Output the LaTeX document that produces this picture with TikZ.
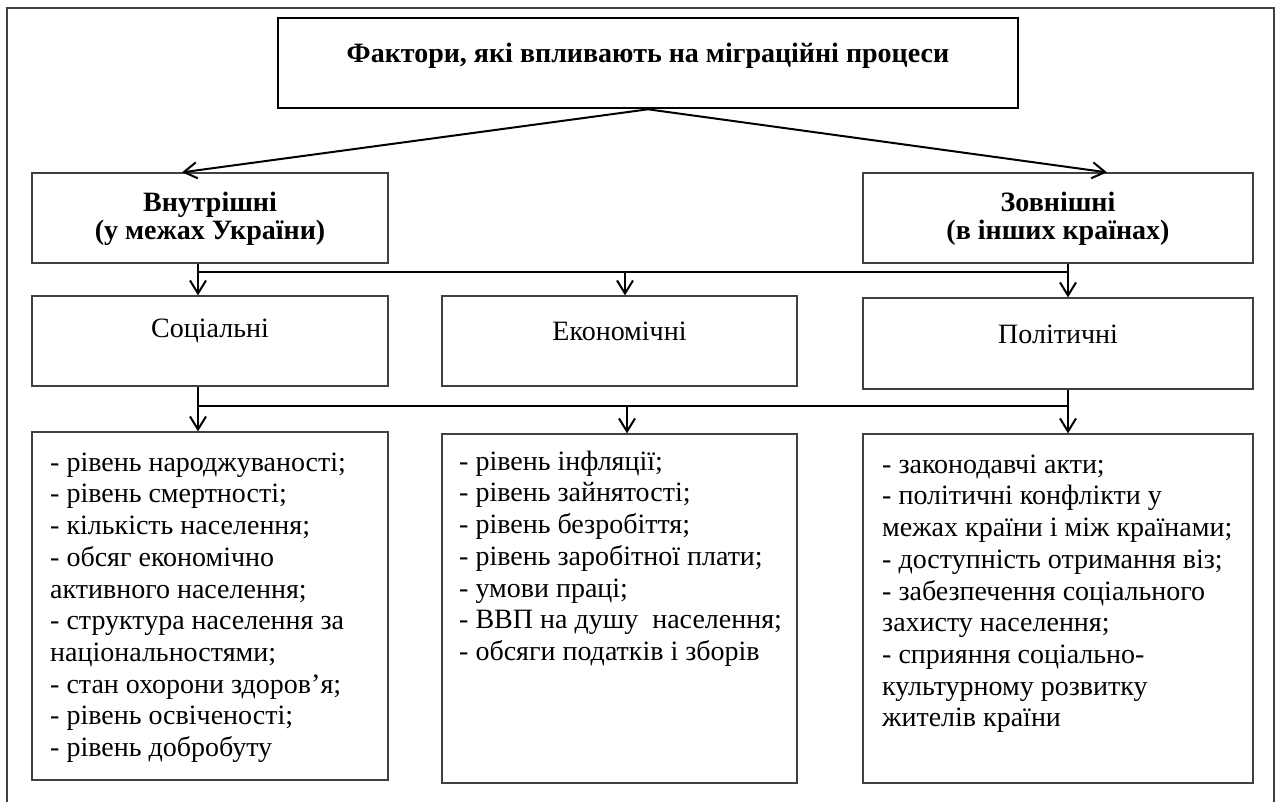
\documentclass[tikz,border=0pt]{standalone}
\usepackage{fontspec}
\setmainfont{Liberation Serif}
\usetikzlibrary{arrows.meta,calc}
\begin{document}
\begin{tikzpicture}[x=1pt,y=-1pt,
  box/.style={draw=black!75,line width=1.3pt,inner sep=0pt},
  topbox/.style={draw=black,line width=2.6pt,inner sep=0pt},
  conn/.style={line width=2pt,-{Straight Barb[length=13pt,width=16pt,line width=2pt]}},
  bar/.style={line width=2.6pt},
  listtxt/.style={anchor=north west,align=left,inner sep=0pt,font=\fontsize{28}{31.7}\selectfont},
  headtxt/.style={align=center,font=\fontsize{28}{28}\selectfont\bfseries},
  cattxt/.style={font=\fontsize{28}{30}\selectfont}
]
\useasboundingbox (0,0) rectangle (1277,801);
\draw[draw=black!75,line width=1.2pt] (7,805) -- (7,8) -- (1274,8) -- (1274,805);

\node[topbox,minimum width=740pt,minimum height=90pt] (top) at (648,63) {};
\node[font=\fontsize{28}{30}\selectfont\bfseries] (toptxt) at (648,56) {Фактори, які впливають на міграційні процеси};

\node[box,minimum width=356pt,minimum height=90pt] (inner) at (210,218) {};
\node[headtxt] (innertxt) at (210,219) {Внутрішні\\(у межах України)};
\node[box,minimum width=390pt,minimum height=90pt] (outer) at (1058,218) {};
\node[headtxt] (outertxt) at (1058,219) {Зовнішні\\(в інших країнах)};

\node[box,minimum width=356pt,minimum height=90pt] (soc) at (210,341) {};
\node[cattxt] (soctxt) at (210,331) {Соціальні};
\node[box,minimum width=355pt,minimum height=90pt] (eco) at (619.5,341) {};
\node[cattxt] (ecotxt) at (619.5,331) {Економічні};
\node[box,minimum width=390pt,minimum height=91pt] (pol) at (1058,343.5) {};
\node[cattxt] (poltxt) at (1058,334) {Політичні};

\node[box,minimum width=356pt,minimum height=348pt] (l1) at (210,606) {};
\node[box,minimum width=355pt,minimum height=349pt] (l2) at (619.5,608.5) {};
\node[box,minimum width=390pt,minimum height=349pt] (l3) at (1058,608.5) {};

\node[listtxt] (l1txt) at (50,448.8) {\strut- рівень народжуваності;\\- рівень смертності;\\- кількість населення;\\- обсяг економічно\\активного населення;\\- структура населення за\\національностями;\\- стан охорони здоров’я;\\- рівень освіченості;\\- рівень добробуту};
\node[listtxt] (l2txt) at (459,447.8) {\strut- рівень інфляції;\\- рівень зайнятості;\\- рівень безробіття;\\- рівень заробітної плати;\\- умови праці;\\- ВВП на душу\ \ населення;\\- обсяги податків і зборів};
\node[listtxt] (l3txt) at (882,450.8) {\strut- законодавчі акти;\\- політичні конфлікти у\\межах країни і між країнами;\\- доступність отримання віз;\\- забезпечення соціального\\захисту населення;\\- сприяння соціально-\\культурному розвитку\\жителів країни};

% level 1 arrows
\coordinate (ta) at (top.south);
\draw[conn] (ta) -- ([xshift=-28pt]inner.north);
\draw[conn] (ta) -- ([xshift=49pt]outer.north);

% level 2
\coordinate (b1l) at ([xshift=-12pt]inner.south);
\coordinate (b1r) at ([xshift=10pt]outer.south);
\draw[bar] (b1l|-0,272) -- (b1r|-0,272);
\draw[conn] (b1l) -- (b1l|-soc.north);
\draw[conn] (b1r) -- (b1r|-pol.north);
\draw[conn] ([xshift=5.5pt]eco.north|-0,272) -- ([xshift=5.5pt]eco.north);

% level 3
\coordinate (b2l) at ([xshift=-12pt]soc.south);
\coordinate (b2r) at ([xshift=10pt]pol.south);
\draw[bar] (b2l|-0,406) -- (b2r|-0,406);
\draw[conn] (b2l) -- (b2l|-l1.north);
\draw[conn] (b2r) -- (b2r|-l3.north);
\draw[conn] ([xshift=7.5pt]l2.north|-0,406) -- ([xshift=7.5pt]l2.north);
\end{tikzpicture}
\end{document}
